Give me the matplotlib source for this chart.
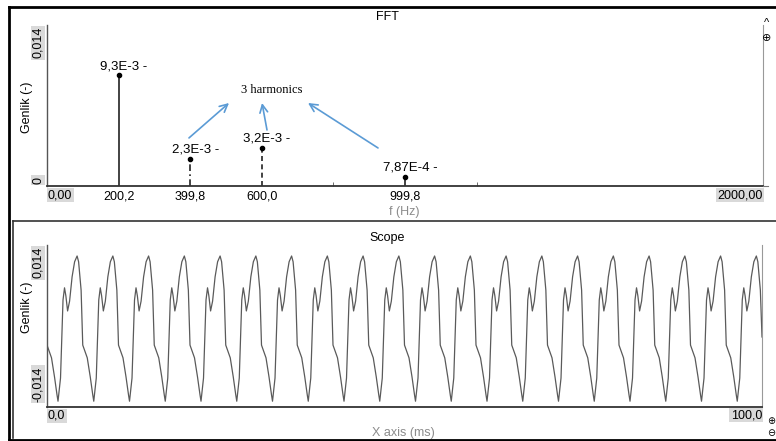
import numpy as np
import matplotlib.pyplot as plt
from matplotlib.lines import Line2D

plt.rcParams['font.family'] = ['Liberation Sans', 'DejaVu Sans']

# FFT peaks
freqs = [200.2, 399.8, 600.0, 999.8]
amps = [9.3e-3, 2.3e-3, 3.2e-3, 7.87e-4]
amp_labels = ['9,3E-3 -', '2,3E-3 -', '3,2E-3 -', '7,87E-4 -']
freq_labels = ['200,2', '399,8', '600,0', '999,8']
stem_styles = ['-', (0, (4, 2, 1, 2)), (0, (3, 2)), '-']

# one 5 ms period of the scope trace, repeated 20 times
period_ms = 5.0
n_periods = 20
period_t = [0.00, 0.35, 0.63, 1.05, 1.40, 1.54, 1.89, 2.24, 2.45, 2.64,
            2.88, 3.16, 3.51, 3.86, 4.21, 4.42, 4.77]
period_v = [-0.0033, -0.0045, -0.0055, -0.0088, -0.0119, -0.0130, -0.0090,
            0.0045, 0.0066, 0.0052, 0.0026, 0.0043, 0.0085, 0.0111, 0.0121,
            0.0111, 0.0062]
end_t, end_v = 100.0, -0.0019

t = np.concatenate([np.array(period_t) + k * period_ms for k in range(n_periods)] + [[end_t]])
v = np.concatenate([np.tile(period_v, n_periods), [end_v]])

W, H = 776, 441


def fx(x):
    return x / W


def fy(y):
    return 1 - y / H


fig = plt.figure(figsize=(W / 100, H / 100), dpi=100)


def box_text(x, y, s, **kw):
    fig.text(fx(x), fy(y), s, fontsize=9,
             bbox=dict(facecolor='#d9d9d9', edgecolor='none', pad=1), **kw)


def style_axes(ax):
    ax.spines['top'].set_visible(False)
    ax.spines['right'].set_color('#999999')
    ax.spines['right'].set_linewidth(0.8)
    ax.spines['left'].set_color('#555555')
    ax.spines['left'].set_linewidth(1.0)
    ax.spines['bottom'].set_color('#333333')
    ax.spines['bottom'].set_linewidth(1.3)
    ax.set_yticks([])


# ---- FFT panel ----
ax1 = fig.add_axes([fx(47), fy(186), (763 - 47) / W, (186 - 25) / H])
ax1.set_xlim(0, 2000)
ax1.set_ylim(0, 0.0135)
style_axes(ax1)

for f, a, ls, lab in zip(freqs, amps, stem_styles, amp_labels):
    ax1.plot([f, f], [0, a], color='#222222', lw=1.2, linestyle=ls)
    ax1.plot(f, a, 'o', color='black', ms=3)
    ax1.annotate(lab, (f, a), xytext=(5, 9), textcoords='offset pixels',
                 ha='center', va='center', fontsize=9.5)

ax1.set_xticks(freqs)
ax1.set_xticklabels(freq_labels, fontsize=9)
ax1.tick_params(axis='x', length=0, pad=3)
ax1.set_xticks([800, 1200], minor=True)
ax1.tick_params(axis='x', which='minor', length=3, direction='in', color='#555555')

blue = '#5b9bd5'
arrows = [((396.6, 0.00403), (508.4, 0.00696)),
          ((614.5, 0.00470), (600.6, 0.00696)),
          ((924.6, 0.00319), (729.1, 0.00696))]
for start, end in arrows:
    ax1.annotate('', xy=end, xytext=start,
                 arrowprops=dict(arrowstyle='->', color=blue, lw=1.2,
                                 shrinkA=0, shrinkB=0, mutation_scale=14))
ax1.text(628.5, 0.00805, '3 harmonics', family='Liberation Serif', fontsize=9,
         ha='center', va='center')

fig.text(fx(387), fy(17), 'FFT', fontsize=9, ha='center', va='center')
fig.text(fx(27), fy(107), 'Genlik (-)', fontsize=9, rotation=90, ha='center', va='center')
fig.text(fx(404), fy(212), 'f (Hz)', fontsize=9, color='#8c8c8c', ha='center', va='center')
box_text(48, 195, '0,00', ha='left', va='center')
box_text(763, 195, '2000,00', ha='right', va='center')
box_text(38, 27, '0,014', rotation=90, ha='center', va='top')
box_text(38, 180, '0', rotation=90, ha='center', va='center')
fig.text(fx(767), fy(23), '^', fontsize=8, ha='center', va='center')
fig.text(fx(767), fy(38), '\u2295', fontsize=8, ha='center', va='center')
fig.add_artist(Line2D([fx(763), fx(768)], [fy(186), fy(186)], color='#777777',
                      lw=0.8, transform=fig.transFigure))

# ---- Scope panel ----
ax2 = fig.add_axes([fx(47), fy(407), (762 - 47) / W, (407 - 245) / H])
ax2.set_xlim(0, 100)
ax2.set_ylim(-0.014, 0.014)
style_axes(ax2)
ax2.set_xticks([])
ax2.plot(t, v, color='#5a5a5a', lw=0.9)

fig.text(fx(387), fy(238), 'Scope', fontsize=9, ha='center', va='center')
fig.text(fx(27), fy(307), 'Genlik (-)', fontsize=9, rotation=90, ha='center', va='center')
fig.text(fx(403), fy(433), 'X axis (ms)', fontsize=9, color='#8c8c8c', ha='center', va='center')
box_text(48, 416, '0,0', ha='left', va='center')
box_text(762, 415, '100,0', ha='right', va='center')
box_text(38, 247, '0,014', rotation=90, ha='center', va='top')
box_text(38, 402, '-0,014', rotation=90, ha='center', va='bottom')
fig.text(fx(771), fy(421), '\u2295', fontsize=7, ha='center', va='center')
fig.text(fx(771), fy(433), '\u2296', fontsize=7, ha='center', va='center')

# window frames
for xs, ys, c, w in [([8.5, 8.5], [7, 440], 'black', 2.0),
                     ([8.5, 776], [7, 7], 'black', 2.0),
                     ([8.5, 776], [439.5, 439.5], 'black', 2.0),
                     ([13, 776], [221, 221], '#333333', 1.2),
                     ([13, 13], [221, 438], '#333333', 1.2)]:
    fig.add_artist(Line2D([fx(x) for x in xs], [fy(y) for y in ys], color=c, lw=w,
                          transform=fig.transFigure))

fig.savefig('out.png', dpi=100)
